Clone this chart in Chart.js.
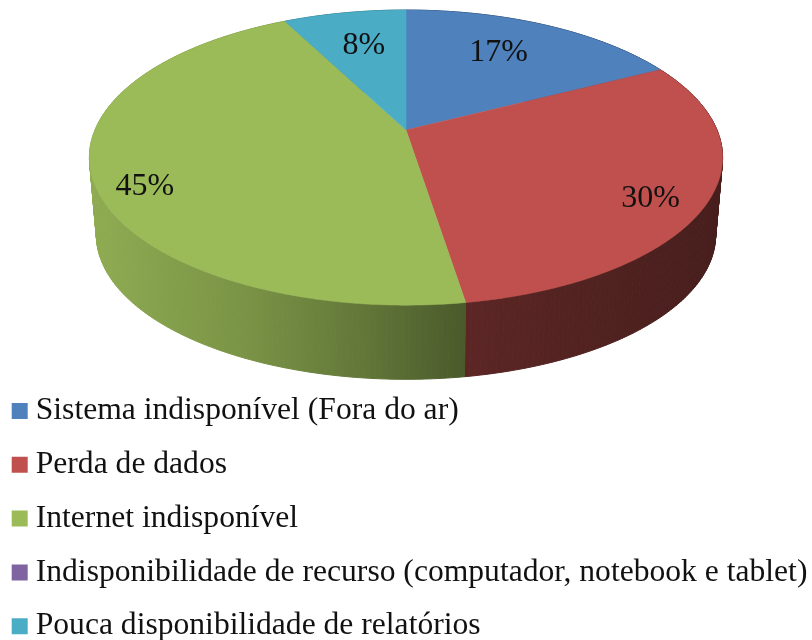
<!DOCTYPE html>
<html lang="pt">
<head>
  <meta charset="UTF-8">
  <title>Problemas de disponibilidade</title>
  <script src="https://cdn.jsdelivr.net/npm/chart.js"></script>
  <style>
    body { margin: 0; background: #fff; }
    canvas { display: block; }
  </style>
</head>
<body>
  <canvas id="pieChart" width="812" height="640"></canvas>
  <script>
    const categories = [
      'Sistema indisponível (Fora do ar)',
      'Perda de dados',
      'Internet indisponível',
      'Indisponibilidade de recurso (computador, notebook e tablet)',
      'Pouca disponibilidade de relatórios'
    ];
    const shares = [17.4, 30.1, 45, 0, 7.5];
    const sliceColors = ['#4f81bd', '#c0504d', '#9bbb59', '#8064a2', '#4bacc6'];

    // where each percentage sits: fraction of the radius, then a small vertical nudge
    const labelReach = [0.63, 0.82, 0.84, 0, 0.65];
    const labelNudge = [-8, 12, 18, 0, -4];

    // wall lighting, left to right: [x, brightness]
    const wallLight = [[90, 0.92], [250, 0.78], [360, 0.64], [465, 0.48], [590, 0.42], [722, 0.37]];

    // perspective of the tilted disc
    const disc = { x: 406, y: 130, rx: 311, ry: 142.4, tilt: -0.187, depth: 78, shrink: 0.978 };

    function rimPoint(angle, reach, drop, scale) {
      const u = Math.cos(angle) * reach;
      const v = Math.sin(angle) * reach;
      const d = 1 + disc.tilt * v;
      return {
        x: disc.x + disc.rx * scale * u / d,
        y: disc.y + drop + disc.ry * scale * v / d
      };
    }

    function darker(hex, f) {
      const n = parseInt(hex.slice(1), 16);
      return `rgb(${(n >> 16) * f}, ${((n >> 8) & 255) * f}, ${(n & 255) * f})`;
    }

    const pie3d = {
      id: 'pie3d',
      // the legend is one long column under the pie, wider than half the canvas
      afterLayout(chart) {
        const legend = chart.legend;
        legend.top = 373;
        legend.bottom = 720;
        legend.height = 347;
        legend.right = 812;
        legend.width = 812;
      },
      beforeDatasetsDraw(chart) {
        const ctx = chart.ctx;
        const arcs = chart.getDatasetMeta(0).data;

        // side wall, one thin strip at a time
        arcs.forEach((arc, i) => {
          if (arc.endAngle - arc.startAngle <= 0) return;
          const grad = ctx.createLinearGradient(wallLight[0][0], 0, wallLight[wallLight.length - 1][0], 0);
          const span = wallLight[wallLight.length - 1][0] - wallLight[0][0];
          wallLight.forEach(s => grad.addColorStop((s[0] - wallLight[0][0]) / span, darker(sliceColors[i], s[1])));
          ctx.fillStyle = grad;
          ctx.strokeStyle = grad;
          ctx.lineWidth = 1;
          const steps = Math.ceil((arc.endAngle - arc.startAngle) / 0.015);
          for (let k = 0; k < steps; k++) {
            const a0 = arc.startAngle + (arc.endAngle - arc.startAngle) * k / steps;
            const a1 = arc.startAngle + (arc.endAngle - arc.startAngle) * (k + 1) / steps;
            const p0 = rimPoint(a0, 1, 0, 1), p1 = rimPoint(a1, 1, 0, 1);
            const q1 = rimPoint(a1, 1, disc.depth, disc.shrink), q0 = rimPoint(a0, 1, disc.depth, disc.shrink);
            ctx.beginPath();
            ctx.moveTo(p0.x, p0.y);
            ctx.lineTo(p1.x, p1.y);
            ctx.lineTo(q1.x, q1.y);
            ctx.lineTo(q0.x, q0.y);
            ctx.closePath();
            ctx.fill();
            ctx.stroke();
          }
        });

        // top face
        arcs.forEach((arc, i) => {
          if (arc.endAngle - arc.startAngle <= 0) return;
          ctx.beginPath();
          ctx.moveTo(disc.x, disc.y);
          const steps = Math.ceil((arc.endAngle - arc.startAngle) / 0.01);
          for (let k = 0; k <= steps; k++) {
            const p = rimPoint(arc.startAngle + (arc.endAngle - arc.startAngle) * k / steps, 1, 0, 1);
            ctx.lineTo(p.x, p.y);
          }
          ctx.closePath();
          ctx.fillStyle = sliceColors[i];
          ctx.strokeStyle = sliceColors[i];
          ctx.lineWidth = 0.5;
          ctx.fill();
          ctx.stroke();
        });

        // percentages
        ctx.font = "32px 'Liberation Serif'";
        ctx.fillStyle = '#111';
        ctx.textAlign = 'center';
        ctx.textBaseline = 'middle';
        const total = shares.reduce((a, b) => a + b, 0);
        arcs.forEach((arc, i) => {
          if (shares[i] === 0) return;
          const p = rimPoint((arc.startAngle + arc.endAngle) / 2, labelReach[i], 0, 1);
          ctx.fillText(Math.round(shares[i] / total * 100) + '%', p.x, p.y + labelNudge[i]);
        });
        return false;
      }
    };

    new Chart(document.getElementById('pieChart'), {
      type: 'pie',
      data: {
        labels: categories,
        datasets: [{ data: shares, backgroundColor: sliceColors, borderWidth: 0 }]
      },
      options: {
        responsive: false,
        animation: false,
        layout: { padding: { left: -2.75 } },
        plugins: {
          tooltip: { enabled: false },
          legend: {
            position: 'left',
            align: 'start',
            labels: {
              font: { family: 'Liberation Serif', size: 31.6 },
              color: '#111',
              usePointStyle: true,
              pointStyle: 'rect',
              boxWidth: 0.5,
              boxHeight: 16,
              padding: 22.2
            }
          }
        }
      },
      plugins: [pie3d]
    });
  </script>
</body>
</html>
